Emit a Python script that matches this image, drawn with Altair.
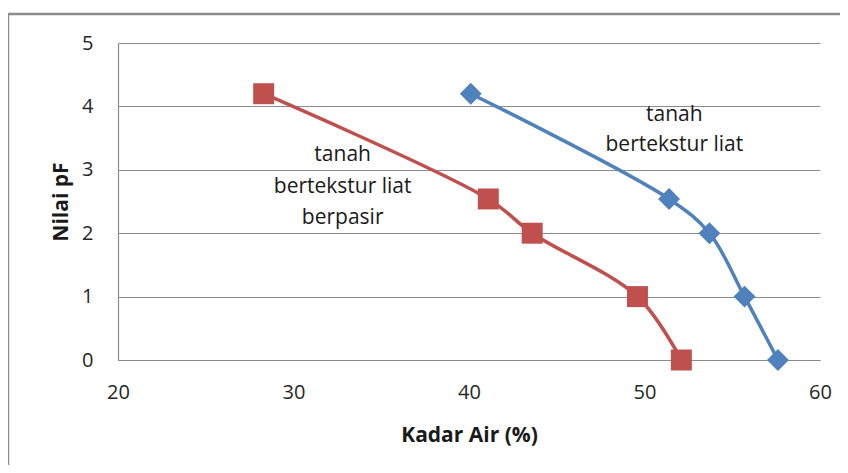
import altair as alt
import pandas as pd

# Data
liat_x = [40.1, 51.4, 53.7, 55.7, 57.6]
liat_y = [4.2, 2.54, 2.0, 1.0, 0.0]
berpasir_x = [28.3, 41.1, 43.6, 49.6, 52.1]
berpasir_y = [4.2, 2.54, 2.0, 1.0, 0.0]

label_liat = ["tanah", "bertekstur liat"]
label_liat_x = [51.7, 51.7]
label_liat_y = [3.86, 3.39]
label_pasir = ["tanah", "bertekstur liat", "berpasir"]
label_pasir_x = [32.8, 32.8, 32.8]
label_pasir_y = [3.23, 2.73, 2.24]

x_ticks = [20, 30, 40, 50, 60]
y_ticks = [0, 1, 2, 3, 4, 5]

FONT = "Open Sans"
RED = "#C0504D"
BLUE = "#4F81BD"

liat = pd.DataFrame({"x": liat_x, "y": liat_y})
pasir = pd.DataFrame({"x": berpasir_x, "y": berpasir_y})
lab = pd.DataFrame({
    "x": label_liat_x + label_pasir_x,
    "y": label_liat_y + label_pasir_y,
    "t": label_liat + label_pasir,
})

xs = alt.Scale(domain=[20, 60], nice=False, zero=False)
ys = alt.Scale(domain=[0, 5], nice=False, zero=False)

xax = alt.Axis(values=x_ticks, format="d", grid=False, ticks=False, labelPadding=22,
               labelFlush=False, title="Kadar Air (%)", titlePadding=22)
yax = alt.Axis(values=y_ticks, format="d", grid=True, ticks=False, labelPadding=25,
               labelFlush=False, title="Nilai pF", titlePadding=10)

def series(df, color, shape, size):
    base = alt.Chart(df)
    line = base.mark_line(color=color, strokeWidth=3.5, interpolate="catmull-rom").encode(
        x=alt.X("x:Q", scale=xs, axis=xax),
        y=alt.Y("y:Q", scale=ys, axis=yax),
    )
    pts = base.mark_point(shape=shape, filled=True, color=color, size=size, opacity=1).encode(
        x=alt.X("x:Q", scale=xs),
        y=alt.Y("y:Q", scale=ys),
    )
    return line + pts

text = alt.Chart(lab).mark_text(font=FONT, fontSize=21, color="#1a1a1a", align="center",
                                 baseline="middle").encode(
    x=alt.X("x:Q", scale=xs), y=alt.Y("y:Q", scale=ys), text="t:N")

border_top = alt.Chart(pd.DataFrame({"a": [0]})).mark_rule(color="#8c8c8c", strokeWidth=2.5).encode(
    x=alt.value(-110), x2=alt.value(760), y=alt.value(-29))
border_left = alt.Chart(pd.DataFrame({"a": [0]})).mark_rule(color="#8c8c8c", strokeWidth=2.5).encode(
    x=alt.value(-110), y=alt.value(-29), y2=alt.value(500))

chart = alt.layer(
    border_top, border_left,
    series(pasir, RED, "square", 440),
    series(liat, BLUE, "diamond", 480),
    text,
).properties(
    width=702, height=317,
    autosize=alt.AutoSizeParams(type="none"),
    padding={"left": 110, "top": 35, "right": 20, "bottom": 105},
).configure_view(stroke=None).configure_axis(
    labelFont=FONT, labelFontSize=20, labelColor="#262626",
    titleFont=FONT, titleFontSize=21, titleFontWeight="bold", titleColor="#1a1a1a",
    domainColor="#8c8c8c", domainWidth=1.2, gridColor="#8c8c8c", gridWidth=1,
)

chart.save("out.html", embed_options={"renderer": "svg", "actions": False})
